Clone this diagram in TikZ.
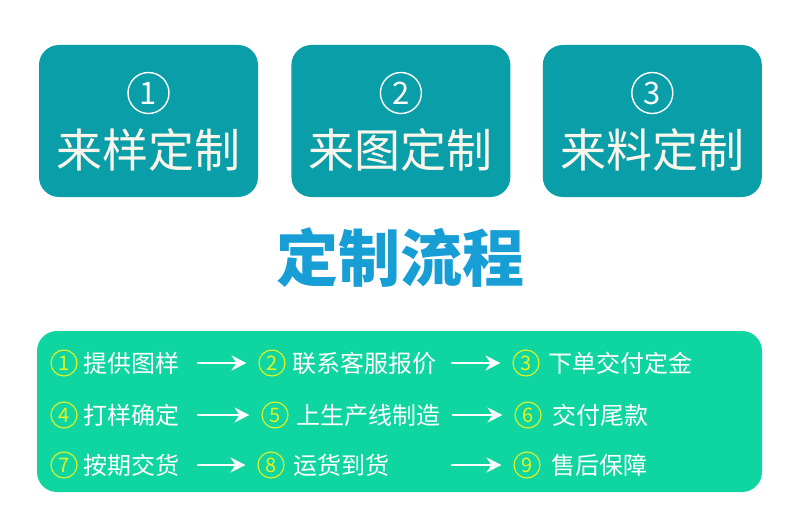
\documentclass[tikz,border=0pt]{standalone}
\usepackage{fontspec}
\newfontfamily\cjk{Noto Sans CJK SC}
\usetikzlibrary{arrows.meta,positioning}

\definecolor{boxteal}{HTML}{0A9EA8}
\definecolor{panelgreen}{HTML}{0FD6A0}
\definecolor{numyellow}{HTML}{E6F520}
\definecolor{titleblue}{HTML}{179ED5}
\definecolor{cream}{HTML}{FBF6EC}

\begin{document}
\begin{tikzpicture}[x=1pt,y=-1pt,>={Stealth[length=15pt,width=15pt,inset=5pt]},node distance=33pt]

  \tikzstyle{kind}=[rectangle,rounded corners=20pt,fill=boxteal,minimum width=219pt,minimum height=152pt]
  \tikzstyle{bignum}=[circle,draw=white,line width=1.4pt,text=white,minimum size=41pt,inner sep=0pt,font=\cjk\fontsize{31}{31}\selectfont]
  \tikzstyle{bigtext}=[text=cream,inner sep=0pt,font=\cjk\fontsize{46}{46}\selectfont]
  \tikzstyle{num}=[circle,draw=numyellow,line width=1.1pt,text=numyellow,minimum size=26pt,inner sep=0pt,font=\cjk\fontsize{20}{20}\selectfont]
  \tikzstyle{item}=[anchor=west,text=white,inner sep=0pt,align=left,font=\cjk\fontsize{24}{24}\selectfont]
  \tikzstyle{flow}=[->,draw=white,line width=2pt,shorten >=12pt]

  \useasboundingbox (0,0) rectangle (800,524);

  % three kinds of order
  \node[kind] (box1) at (148.5,121) {};
  \node[kind] (box2) [right=33pt of box1] {};
  \node[kind] (box3) [right=32pt of box2] {};

  \node[bignum] (big1) [below=27pt of box1.north] {1};
  \node[bignum] (big2) [below=27pt of box2.north] {2};
  \node[bignum] (big3) [below=27pt of box3.north] {3};
  \node[bigtext] (kind1) at ([yshift=-29pt]box1.center) {来样定制};
  \node[bigtext] (kind2) at ([yshift=-29pt]box2.center) {来图定制};
  \node[bigtext] (kind3) at ([yshift=-29pt]box3.center) {来料定制};

  \node[text=titleblue,font=\cjk\bfseries\fontsize{62}{62}\selectfont] (title) at (400,258) {定制流程};

  % the steps
  \node[rectangle,rounded corners=20pt,fill=panelgreen,minimum width=725pt,minimum height=161pt] (panel) at (399.5,411.5) {};

  \node[num] (n1) at (64,363) {1};
  \node[num] (n2) at (272,363) {2};
  \node[num] (n3) at (526,363) {3};
  \node[num] (n4) at (64,415) {4};
  \node[num] (n5) at (275,415) {5};
  \node[num] (n6) at (528,415) {6};
  \node[num] (n7) at (64,465) {7};
  \node[num] (n8) at (271,465) {8};
  \node[num] (n9) at (527,465) {9};

  \node[item,text width=113pt] (s1) [right=6pt of n1] {提供图样};
  \node[item,text width=158pt] (s2) [right=7pt of n2] {联系客服报价};
  \node[item]                  (s3) [right=9pt of n3] {下单交付定金};
  \node[item,text width=113pt] (s4) [right=6pt of n4] {打样确定};
  \node[item,text width=155pt] (s5) [right=8pt of n5] {上生产线制造};
  \node[item]                  (s6) [right=11pt of n6] {交付尾款};
  \node[item,text width=113pt] (s7) [right=6pt of n7] {按期交货};
  \node[item,text width=157pt] (s8) [right=9pt of n8] {运货到货};
  \node[item]                  (s9) [right=11pt of n9] {售后保障};

  \path
  (s1.east) edge [flow] (n2.west)
  (s2.east) edge [flow] (n3.west)
  (s4.east) edge [flow] (n5.west)
  (s5.east) edge [flow] (n6.west)
  (s7.east) edge [flow] (n8.west)
  (s8.east) edge [flow] (n9.west)
  ;
\end{tikzpicture}
\end{document}
